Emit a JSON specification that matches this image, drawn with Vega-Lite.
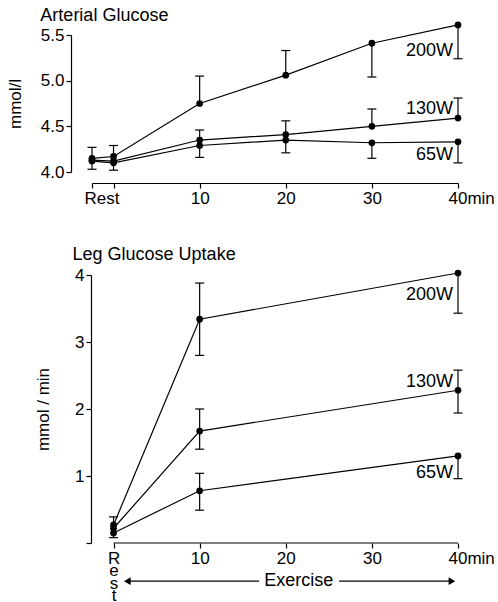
{
  "$schema": "https://vega.github.io/schema/vega-lite/v6.json",
  "background": "white",
  "padding": {"left": 6, "top": 6, "right": 5, "bottom": 0},
  "spacing": 40,
  "config": {
    "view": {"stroke": null},
    "font": "Liberation Sans",
    "axis": {"domainColor": "black", "tickColor": "black", "labelColor": "black", "titleColor": "black", "labelFont": "Liberation Sans", "titleFont": "Liberation Sans", "labelFontSize": 17, "titleFontSize": 17, "titleFontWeight": "normal", "grid": false, "tickSize": 5, "labelPadding": 2, "domainWidth": 1.2, "tickWidth": 1.2},
    "title": {"font": "Liberation Sans", "fontSize": 18, "fontWeight": "normal", "color": "black", "anchor": "start", "frame": "bounds"}
  },
  "datasets": {
    "pts": [
      {"panel": "top", "power": "200W", "t": -2.5, "v": 4.15},
      {"panel": "top", "power": "200W", "t": 0, "v": 4.17},
      {"panel": "top", "power": "200W", "t": 10, "v": 4.75},
      {"panel": "top", "power": "200W", "t": 20, "v": 5.06},
      {"panel": "top", "power": "200W", "t": 30, "v": 5.41},
      {"panel": "top", "power": "200W", "t": 40, "v": 5.61},
      {"panel": "top", "power": "130W", "t": -2.5, "v": 4.13},
      {"panel": "top", "power": "130W", "t": 0, "v": 4.12},
      {"panel": "top", "power": "130W", "t": 10, "v": 4.35},
      {"panel": "top", "power": "130W", "t": 20, "v": 4.41},
      {"panel": "top", "power": "130W", "t": 30, "v": 4.50},
      {"panel": "top", "power": "130W", "t": 40, "v": 4.59},
      {"panel": "top", "power": "65W", "t": -2.5, "v": 4.12},
      {"panel": "top", "power": "65W", "t": 0, "v": 4.10},
      {"panel": "top", "power": "65W", "t": 10, "v": 4.29},
      {"panel": "top", "power": "65W", "t": 20, "v": 4.35},
      {"panel": "top", "power": "65W", "t": 30, "v": 4.32},
      {"panel": "top", "power": "65W", "t": 40, "v": 4.33},
      {"panel": "bottom", "power": "200W", "t": 0, "v": 0.27},
      {"panel": "bottom", "power": "200W", "t": 10, "v": 3.34},
      {"panel": "bottom", "power": "200W", "t": 40, "v": 4.03},
      {"panel": "bottom", "power": "130W", "t": 0, "v": 0.22},
      {"panel": "bottom", "power": "130W", "t": 10, "v": 1.67},
      {"panel": "bottom", "power": "130W", "t": 40, "v": 2.28},
      {"panel": "bottom", "power": "65W", "t": 0, "v": 0.15},
      {"panel": "bottom", "power": "65W", "t": 10, "v": 0.78},
      {"panel": "bottom", "power": "65W", "t": 40, "v": 1.30}
    ],
    "err": [
      {"panel": "top", "power": "200W", "t": -2.5, "v": 4.15, "e": 4.27},
      {"panel": "top", "power": "65W", "t": -2.5, "v": 4.12, "e": 4.03},
      {"panel": "top", "power": "200W", "t": 0, "v": 4.17, "e": 4.29},
      {"panel": "top", "power": "65W", "t": 0, "v": 4.10, "e": 4.02},
      {"panel": "top", "power": "200W", "t": 10, "v": 4.75, "e": 5.05},
      {"panel": "top", "power": "130W", "t": 10, "v": 4.35, "e": 4.46},
      {"panel": "top", "power": "65W", "t": 10, "v": 4.29, "e": 4.16},
      {"panel": "top", "power": "200W", "t": 20, "v": 5.06, "e": 5.33},
      {"panel": "top", "power": "130W", "t": 20, "v": 4.41, "e": 4.56},
      {"panel": "top", "power": "65W", "t": 20, "v": 4.35, "e": 4.21},
      {"panel": "top", "power": "200W", "t": 30, "v": 5.41, "e": 5.04},
      {"panel": "top", "power": "130W", "t": 30, "v": 4.50, "e": 4.69},
      {"panel": "top", "power": "65W", "t": 30, "v": 4.32, "e": 4.15},
      {"panel": "top", "power": "200W", "t": 40, "v": 5.61, "e": 5.24},
      {"panel": "top", "power": "130W", "t": 40, "v": 4.59, "e": 4.81},
      {"panel": "top", "power": "65W", "t": 40, "v": 4.33, "e": 4.10},
      {"panel": "bottom", "power": "200W", "t": 0, "v": 0.27, "e": 0.39},
      {"panel": "bottom", "power": "65W", "t": 0, "v": 0.15, "e": 0.08},
      {"panel": "bottom", "power": "200W", "t": 10, "v": 3.34, "e": 3.88},
      {"panel": "bottom", "power": "200W", "t": 10, "v": 3.34, "e": 2.80},
      {"panel": "bottom", "power": "130W", "t": 10, "v": 1.67, "e": 2.00},
      {"panel": "bottom", "power": "130W", "t": 10, "v": 1.67, "e": 1.40},
      {"panel": "bottom", "power": "65W", "t": 10, "v": 0.78, "e": 1.04},
      {"panel": "bottom", "power": "65W", "t": 10, "v": 0.78, "e": 0.49},
      {"panel": "bottom", "power": "200W", "t": 40, "v": 4.03, "e": 3.43},
      {"panel": "bottom", "power": "130W", "t": 40, "v": 2.28, "e": 2.58},
      {"panel": "bottom", "power": "130W", "t": 40, "v": 2.28, "e": 1.94},
      {"panel": "bottom", "power": "65W", "t": 40, "v": 1.30, "e": 0.96}
    ],
    "lab": [
      {"panel": "top", "power": "200W", "t": 40, "y": 5.33},
      {"panel": "top", "power": "130W", "t": 40, "y": 4.69},
      {"panel": "top", "power": "65W", "t": 40, "y": 4.19},
      {"panel": "bottom", "power": "200W", "t": 40, "y": 3.70},
      {"panel": "bottom", "power": "130W", "t": 40, "y": 2.40},
      {"panel": "bottom", "power": "65W", "t": 40, "y": 1.04}
    ],
    "ex": [
      {"seg": "left", "x1": 1.5, "x2": 16.9, "y": -0.57},
      {"seg": "right", "x1": 26.2, "x2": 39.2, "y": -0.57}
    ],
    "exhead": [
      {"shape": "triangle-left", "x": 1.6, "y": -0.57},
      {"shape": "triangle-right", "x": 39.3, "y": -0.57}
    ],
    "extext": [
      {"x": 21.5, "y": -0.57, "text": "Exercise"}
    ]
  },
  "vconcat": [
    {
      "width": 366,
      "height": 137,
      "title": {"text": "Arterial Glucose", "dx": 34, "offset": -3},
      "layer": [
        {
          "data": {"name": "pts"},
          "transform": [{"filter": "datum.panel == 'top'"}],
          "mark": {"type": "line", "color": "black", "strokeWidth": 1.2},
          "encoding": {
            "x": {"field": "t", "type": "quantitative", "scale": {"domain": [-2.5, 40], "nice": false},
              "axis": {"title": null, "values": [-2.5, 0, 10, 20, 30, 40], "offset": 11,
                "labelExpr": "datum.value == -2.5 ? '' : datum.value == 0 ? 'Rest' : datum.value == 40 ? '40min' : datum.label",
                "labelAlign": {"condition": {"test": "datum.value == 40", "value": "left"}, "value": "center"},
                "labelOffset": {"condition": [{"test": "datum.value == 40", "value": -10}, {"test": "datum.value == 0", "value": -12}], "value": 0}}},
            "y": {"field": "v", "type": "quantitative", "scale": {"domain": [4.0, 5.5], "nice": false, "zero": false},
              "axis": {"title": "mmol/l", "values": [4.0, 4.5, 5.0, 5.5], "format": ".1f", "offset": 21, "titlePadding": 16}},
            "detail": {"field": "power"}
          }
        },
        {
          "data": {"name": "err"},
          "transform": [{"filter": "datum.panel == 'top'"}],
          "mark": {"type": "rule", "color": "black", "strokeWidth": 1.2},
          "encoding": {
            "x": {"field": "t", "type": "quantitative"},
            "y": {"field": "v", "type": "quantitative"},
            "y2": {"field": "e"}
          }
        },
        {
          "data": {"name": "err"},
          "transform": [{"filter": "datum.panel == 'top'"}],
          "mark": {"type": "tick", "orient": "horizontal", "color": "black", "thickness": 1.2, "size": 9, "opacity": 1},
          "encoding": {
            "x": {"field": "t", "type": "quantitative"},
            "y": {"field": "e", "type": "quantitative"}
          }
        },
        {
          "data": {"name": "pts"},
          "transform": [{"filter": "datum.panel == 'top'"}],
          "mark": {"type": "point", "filled": true, "color": "black", "size": 45, "opacity": 1},
          "encoding": {
            "x": {"field": "t", "type": "quantitative"},
            "y": {"field": "v", "type": "quantitative"}
          }
        },
        {
          "data": {"name": "lab"},
          "transform": [{"filter": "datum.panel == 'top'"}],
          "mark": {"type": "text", "align": "right", "baseline": "middle", "dx": -5, "fontSize": 18, "color": "black"},
          "encoding": {
            "x": {"field": "t", "type": "quantitative"},
            "y": {"field": "y", "type": "quantitative"},
            "text": {"field": "power"}
          }
        }
      ]
    },
    {
      "width": 366,
      "height": 268,
      "title": {"text": "Leg Glucose Uptake", "dx": 38, "offset": 2},
      "layer": [
        {
          "data": {"name": "pts"},
          "transform": [{"filter": "datum.panel == 'bottom'"}],
          "mark": {"type": "line", "color": "black", "strokeWidth": 1.2},
          "encoding": {
            "x": {"field": "t", "type": "quantitative", "scale": {"domain": [-2.5, 40], "nice": false},
              "axis": {"title": null, "values": [0, 10, 20, 30, 40], "domain": false, "labelLineHeight": 12.5,
                "labelExpr": "datum.value == 0 ? ['R','e','s','t'] : datum.value == 40 ? '40min' : datum.label",
                "labelAlign": {"condition": {"test": "datum.value == 40", "value": "left"}, "value": "center"},
                "labelOffset": {"condition": {"test": "datum.value == 40", "value": -10}, "value": 0}}},
            "y": {"field": "v", "type": "quantitative", "scale": {"domain": [0, 4], "nice": false},
              "axis": {"title": "mmol / min", "values": [0, 1, 2, 3, 4], "format": "d", "labelExpr": "datum.value == 0 ? '' : datum.label", "offset": 1, "titlePadding": 22}},
            "detail": {"field": "power"}
          }
        },
        {
          "data": {"values": [{"a": 0, "b": 40, "y": 0}]},
          "mark": {"type": "rule", "color": "black", "strokeWidth": 1.2},
          "encoding": {
            "x": {"field": "a", "type": "quantitative"},
            "x2": {"field": "b"},
            "y": {"field": "y", "type": "quantitative"}
          }
        },
        {
          "data": {"name": "err"},
          "transform": [{"filter": "datum.panel == 'bottom'"}],
          "mark": {"type": "rule", "color": "black", "strokeWidth": 1.2},
          "encoding": {
            "x": {"field": "t", "type": "quantitative"},
            "y": {"field": "v", "type": "quantitative"},
            "y2": {"field": "e"}
          }
        },
        {
          "data": {"name": "err"},
          "transform": [{"filter": "datum.panel == 'bottom'"}],
          "mark": {"type": "tick", "orient": "horizontal", "color": "black", "thickness": 1.2, "size": 9, "opacity": 1},
          "encoding": {
            "x": {"field": "t", "type": "quantitative"},
            "y": {"field": "e", "type": "quantitative"}
          }
        },
        {
          "data": {"name": "pts"},
          "transform": [{"filter": "datum.panel == 'bottom'"}],
          "mark": {"type": "point", "filled": true, "color": "black", "size": 45, "opacity": 1},
          "encoding": {
            "x": {"field": "t", "type": "quantitative"},
            "y": {"field": "v", "type": "quantitative"}
          }
        },
        {
          "data": {"name": "lab"},
          "transform": [{"filter": "datum.panel == 'bottom'"}],
          "mark": {"type": "text", "align": "right", "baseline": "middle", "dx": -5, "fontSize": 18, "color": "black"},
          "encoding": {
            "x": {"field": "t", "type": "quantitative"},
            "y": {"field": "y", "type": "quantitative"},
            "text": {"field": "power"}
          }
        },
        {
          "data": {"name": "ex"},
          "mark": {"type": "rule", "color": "black", "strokeWidth": 1.2},
          "encoding": {
            "x": {"field": "x1", "type": "quantitative"},
            "x2": {"field": "x2"},
            "y": {"field": "y", "type": "quantitative"}
          }
        },
        {
          "data": {"name": "exhead"},
          "mark": {"type": "point", "filled": true, "color": "black", "size": 60, "opacity": 1},
          "encoding": {
            "x": {"field": "x", "type": "quantitative"},
            "y": {"field": "y", "type": "quantitative"},
            "shape": {"field": "shape", "type": "nominal", "scale": null}
          }
        },
        {
          "data": {"name": "extext"},
          "mark": {"type": "text", "align": "center", "baseline": "middle", "fontSize": 18, "color": "black"},
          "encoding": {
            "x": {"field": "x", "type": "quantitative"},
            "y": {"field": "y", "type": "quantitative"},
            "text": {"field": "text"}
          }
        }
      ]
    }
  ]
}
